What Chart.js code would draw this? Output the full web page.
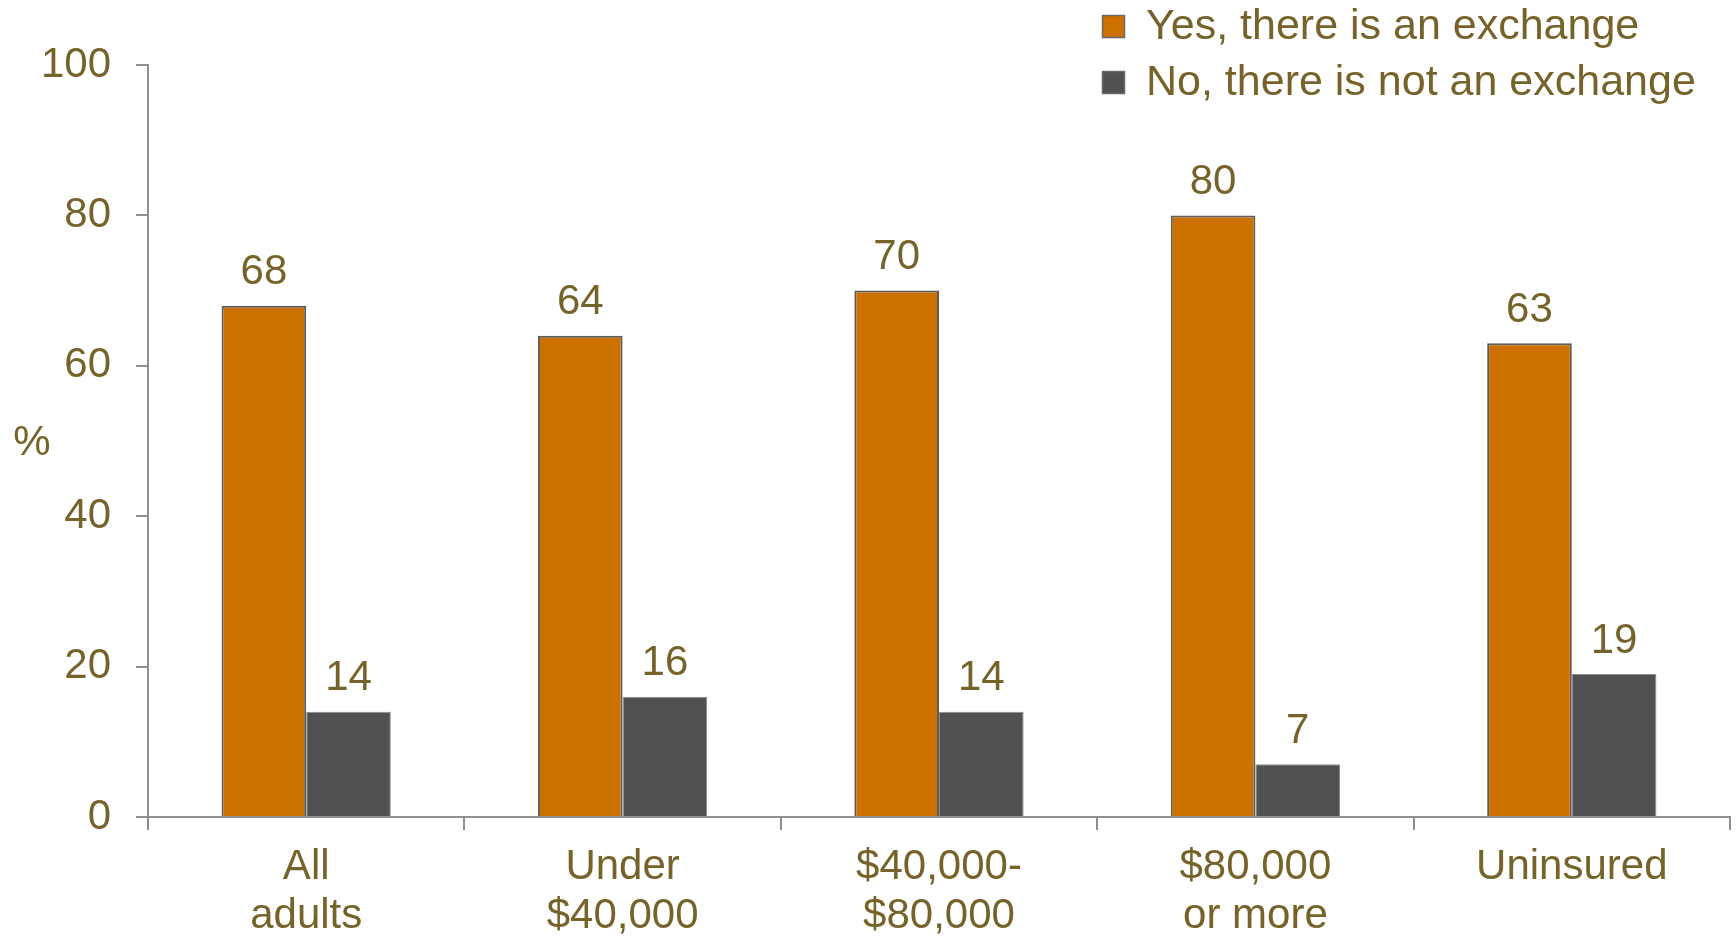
<!DOCTYPE html>
<html>
<head>
<meta charset="utf-8">
<script src="https://cdn.jsdelivr.net/npm/chart.js@4.4.1/dist/chart.umd.min.js"></script>
<style>
  html, body { margin:0; padding:0; background:#fff; }
  #chart { display:block; }
</style>
</head>
<body>
<canvas id="chart" width="1736" height="937"></canvas>
<script>
// values
const categories = [['All','adults'], ['Under','$40,000'], ['$40,000-','$80,000'], ['$80,000','or more'], ['Uninsured']];
const seriesNames = ['Yes, there is an exchange', 'No, there is not an exchange'];
const yesValues = [68, 64, 70, 80, 63];
const noValues = [14, 16, 14, 7, 19];
const yTicks = [0, 20, 40, 60, 80, 100];

const TEXT = '#76632a';
const AXIS = '#8f8f8f';
const FONT = '"Liberation Sans", Arial, sans-serif';

// value labels above bars + the legend and the "%" axis caption
const extras = {
  id: 'extras',
  afterDatasetsDraw(chart){
    const ctx = chart.ctx;
    ctx.save();
    ctx.fillStyle = TEXT;
    ctx.font = '42px ' + FONT;
    ctx.textAlign = 'center';
    ctx.textBaseline = 'middle';
    chart.data.datasets.forEach((ds, i) => {
      chart.getDatasetMeta(i).data.forEach((bar, j) => {
        ctx.fillText(String(ds.data[j]), bar.x, bar.y - 33);
      });
    });

    // "%" caption
    ctx.fillText('%', 32, 443);

    // legend
    ctx.textAlign = 'left';
    ctx.font = '43px ' + FONT;
    chart.data.datasets.forEach((ds, i) => {
      const y = 15 + i * 56;
      ctx.fillStyle = ds.backgroundColor;
      ctx.fillRect(1102, y, 23, 23);
      ctx.strokeStyle = '#6a6a6a';
      ctx.lineWidth = 1.5;
      ctx.strokeRect(1102.5, y + 0.5, 22, 22);
      ctx.fillStyle = TEXT;
      ctx.fillText(ds.label, 1146, y + 12);
    });
    ctx.restore();
  }
};

new Chart(document.getElementById('chart').getContext('2d'), {
  type: 'bar',
  data: {
    labels: categories,
    datasets: [
      {
        label: seriesNames[0],
        data: yesValues,
        backgroundColor: '#cc7000',
        borderColor: '#5c5c5c',
        borderWidth: 2,
        barPercentage: 1,
        categoryPercentage: 0.535
      },
      {
        label: seriesNames[1],
        data: noValues,
        backgroundColor: '#515153',
        borderColor: '#8a8a8a',
        borderWidth: 1,
        barPercentage: 1,
        categoryPercentage: 0.535
      }
    ]
  },
  options: {
    responsive: false,
    animation: false,
    devicePixelRatio: 1,
    layout: { padding: { top: 65, right: 6, bottom: 0, left: 0 } },
    scales: {
      x: {
        afterFit: (s) => { s.height = 120; },
        grid: { offset: true, drawOnChartArea: false, drawTicks: true, tickLength: 13, color: AXIS, lineWidth: 2 },
        border: { display: true, color: AXIS, width: 2 },
        ticks: {
          color: TEXT,
          font: { family: FONT, size: 42, lineHeight: 1.17 },
          maxRotation: 0, autoSkip: false, padding: 13
        }
      },
      y: {
        min: 0, max: 100,
        afterFit: (s) => { s.width = 148; },
        afterBuildTicks: (s) => { s.ticks = yTicks.map(v => ({ value: v })); },
        grid: { drawOnChartArea: false, drawTicks: true, tickLength: 12, color: AXIS, lineWidth: 2 },
        border: { display: true, color: AXIS, width: 2 },
        ticks: {
          color: TEXT,
          font: { family: FONT, size: 42 },
          padding: 25
        }
      }
    },
    plugins: {
      legend: { display: false },
      tooltip: { enabled: false }
    }
  },
  plugins: [extras]
});
</script>
</body>
</html>
